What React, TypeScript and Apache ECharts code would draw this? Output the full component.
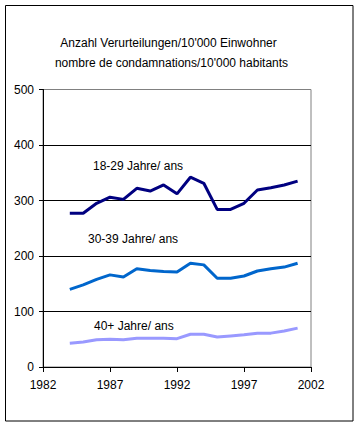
import React, { useEffect, useRef } from "react";
import * as echarts from "echarts";

const years = [1984, 1985, 1986, 1987, 1988, 1989, 1990, 1991, 1992, 1993, 1994, 1995, 1996, 1997, 1998, 1999, 2000, 2001];
const age1829 = [277, 277, 295, 306, 302, 322, 317, 328, 312, 342, 331, 284, 284, 295, 319, 323, 328, 335];
const age3039 = [140, 148, 158, 166, 162, 177, 174, 172, 171, 187, 184, 160, 160, 164, 173, 177, 180, 187];
const age40 = [43, 45, 49, 50, 49, 52, 52, 52, 51, 59, 59, 54, 56, 58, 61, 61, 65, 70];
const seriesNames = ["18-29 Jahre/ ans", "30-39 Jahre/ ans", "40+ Jahre/ ans"];
const titleLines = ["Anzahl Verurteilungen/10'000 Einwohner", "nombre de condamnations/10'000 habitants"];

const FONT = "'Liberation Sans', Arial, sans-serif";

export default function App() {
  const ref = useRef<HTMLDivElement>(null);
  useEffect(() => {
    if (!ref.current) return;
    const chart = echarts.init(ref.current, null, { renderer: "svg" });
    const mk = (vals: number[]) => years.map((y, i) => [y, vals[i]]);
    chart.setOption({
      animation: false,
      backgroundColor: "#fff",
      textStyle: { fontFamily: FONT },
      grid: {
        left: 43,
        right: 52,
        top: 89.5,
        bottom: 60,
        show: true,
        borderColor: "#808080",
        borderWidth: 1,
        backgroundColor: "transparent",
      },
      xAxis: {
        type: "value",
        min: 1982,
        max: 2002,
        interval: 5,
        axisLine: { show: true, onZero: false, lineStyle: { color: "#000", width: 1 } },
        axisTick: { show: true, length: 5, inside: false, lineStyle: { color: "#000" } },
        axisLabel: { color: "#000", fontSize: 12, fontFamily: FONT, margin: 12, formatter: (v: number) => String(v) },
        splitLine: { show: false },
      },
      yAxis: {
        type: "value",
        min: 0,
        max: 500,
        interval: 100,
        axisLine: { show: true, lineStyle: { color: "#000", width: 1 } },
        axisTick: { show: true, length: 4, inside: false, lineStyle: { color: "#000" } },
        axisLabel: { color: "#000", fontSize: 12, fontFamily: FONT, margin: 9 },
        splitLine: { show: true, showMaxLine: false, lineStyle: { color: "#000", width: 1 } },
      },
      series: [
        { name: seriesNames[0], type: "line", data: mk(age1829), symbol: "none", lineStyle: { color: "#000080", width: 3 }, itemStyle: { color: "#000080" } },
        { name: seriesNames[1], type: "line", data: mk(age3039), symbol: "none", lineStyle: { color: "#0066CC", width: 3 }, itemStyle: { color: "#0066CC" } },
        { name: seriesNames[2], type: "line", data: mk(age40), symbol: "none", lineStyle: { color: "#9999FF", width: 3 }, itemStyle: { color: "#9999FF" } },
      ],
      graphic: [
        { type: "rect", shape: { x: 5.5, y: 5.5, width: 347.5, height: 415.5 }, style: { fill: "none", stroke: "#000", lineWidth: 1 }, silent: true },
        { type: "text", x: 168.5, y: 43, style: { text: titleLines[0], fontSize: 12, fontFamily: FONT, fill: "#000", textAlign: "center", textVerticalAlign: "middle" } },
        { type: "text", x: 171.5, y: 63, style: { text: titleLines[1], fontSize: 12, fontFamily: FONT, fill: "#000", textAlign: "center", textVerticalAlign: "middle" } },
        { type: "text", x: 93, y: 166, style: { text: seriesNames[0], fontSize: 12, fontFamily: FONT, fill: "#000", textAlign: "left", textVerticalAlign: "middle" } },
        { type: "text", x: 88, y: 239, style: { text: seriesNames[1], fontSize: 12, fontFamily: FONT, fill: "#000", textAlign: "left", textVerticalAlign: "middle" } },
        { type: "text", x: 94, y: 326, style: { text: seriesNames[2], fontSize: 12, fontFamily: FONT, fill: "#000", textAlign: "left", textVerticalAlign: "middle" } },
      ],
    });
    return () => chart.dispose();
  }, []);
  return <div ref={ref} style={{ position: "fixed", left: 0, top: 0, width: 363, height: 427 }} />;
}
